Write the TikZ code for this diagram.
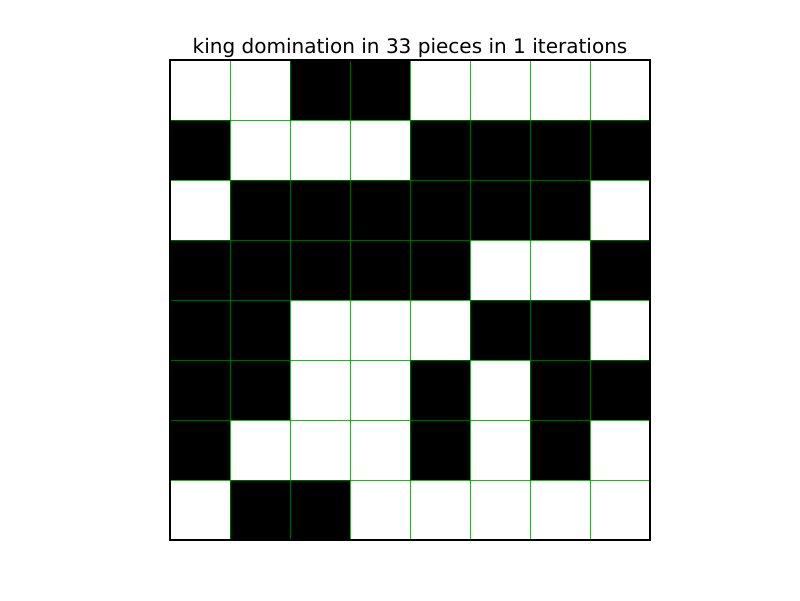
\documentclass[tikz,border=0pt]{standalone}
\usepackage{fontspec}
\setmainfont{DejaVu Sans}
\usepackage{tikz}
\usetikzlibrary{positioning}
\definecolor{gridgreen}{rgb}{0,0.5,0}
\tikzstyle{piece} = [fill=black, draw=none]
\tikzstyle{gridline} = [draw=gridgreen, draw opacity=0.75, line width=0.5pt]
\tikzstyle{frame} = [draw=black, line width=0.6pt]
\tikzstyle{titletext} = [font=\fontsize{11.4}{13}\selectfont, inner sep=0pt]
\begin{document}
\begin{tikzpicture}[x=0.02cm, y=0.02cm]
            \useasboundingbox (0,0) rectangle (800,600);
            % Board corners
            \coordinate (sw) at (170,60);
            \coordinate (ne) at (650,540);
            % Pieces (row 0 at the top)
            \foreach \row/\cols in {0/{2,3}, 1/{0,4,5,6,7}, 2/{1,2,3,4,5,6}, 3/{0,1,2,3,4,7},
                                    4/{0,1,5,6}, 5/{0,1,4,6,7}, 6/{0,4,6}, 7/{1,2}} {
                \foreach \col in \cols {
                    \fill[piece] (170+60*\col, 480-60*\row) rectangle ++(60,60);
                }
            }
            % Grid
            \foreach \i in {1,...,7} {
                \draw[gridline] (170+60*\i, 60) -- (170+60*\i, 540);
                \draw[gridline] (170, 60+60*\i) -- (650, 60+60*\i);
            }
            \draw[frame] (sw) rectangle (ne);
            % Title
            \node (title) [titletext, anchor=base] at (410,547) {king domination in 33 pieces in 1 iterations};
        \end{tikzpicture}
\end{document}
